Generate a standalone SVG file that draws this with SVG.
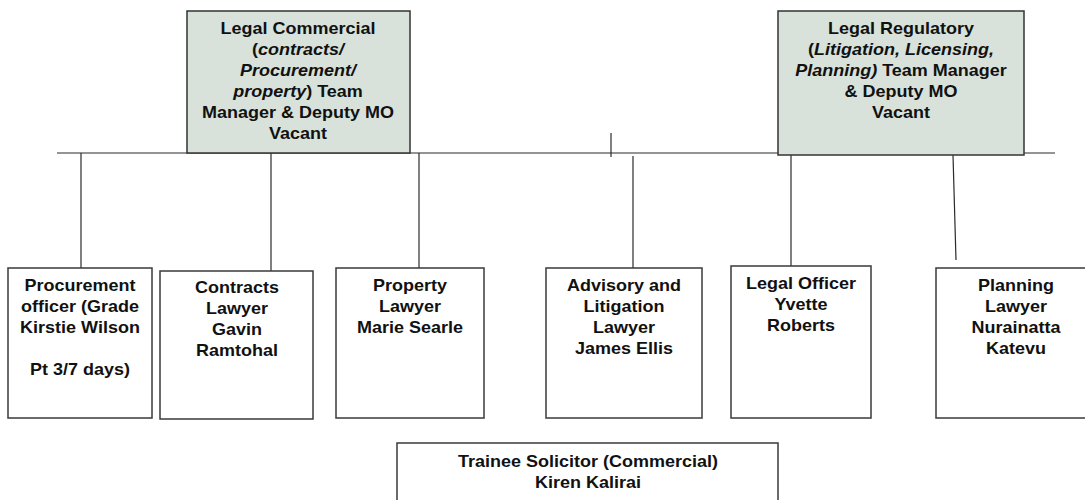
<svg xmlns="http://www.w3.org/2000/svg" width="1085" height="500" viewBox="0 0 1085 500">
<style>
.box{fill:#ffffff;stroke:#3a3a3a;stroke-width:1.5}
.mgr{fill:#d8e2da;stroke:#333333;stroke-width:1.5}
.ln{stroke:#2a2a2a;stroke-width:1.2;fill:none}
text{font-family:"Liberation Sans",Arial,sans-serif;font-weight:bold;font-size:16px;fill:#111111;text-anchor:middle}
.it{font-style:italic}
</style>
<rect width="1085" height="500" fill="#ffffff"/>
<g id="connectors">
<line class="ln" x1="57" y1="153" x2="1055" y2="153"/>
<line class="ln" x1="611" y1="133" x2="611" y2="157"/>
<line class="ln" x1="81" y1="153" x2="81" y2="268"/>
<line class="ln" x1="271" y1="153" x2="271" y2="271"/>
<line class="ln" x1="419" y1="153" x2="419" y2="268"/>
<line class="ln" x1="633" y1="156" x2="633" y2="268"/>
<line class="ln" x1="791" y1="155" x2="791" y2="266"/>
<line class="ln" x1="953" y1="155" x2="956" y2="260"/>
</g>
<g id="mgr-commercial">
<rect class="mgr" x="187" y="11" width="223" height="142"/>
<g transform="translate(298,0) scale(1.125,1)">
<text x="0" y="34">Legal Commercial</text>
<text x="0" y="55">(<tspan class="it">contracts/</tspan></text>
<text x="0" y="76" class="it">Procurement/</text>
<text x="0" y="97"><tspan class="it">property</tspan>) Team</text>
<text x="0" y="118">Manager &amp; Deputy MO</text>
<text x="0" y="139">Vacant</text>
</g>
</g>
<g id="mgr-regulatory">
<rect class="mgr" x="778" y="11" width="246" height="144"/>
<g transform="translate(901,0) scale(1.125,1)">
<text x="0" y="34">Legal Regulatory</text>
<text x="0" y="55">(<tspan class="it">Litigation, Licensing,</tspan></text>
<text x="0" y="76"><tspan class="it">Planning)</tspan> Team Manager</text>
<text x="0" y="97">&amp; Deputy MO</text>
<text x="0" y="118">Vacant</text>
</g>
</g>
<g id="procurement">
<rect class="box" x="8" y="268" width="144" height="150"/>
<g transform="translate(80,0) scale(1.125,1)">
<text x="0" y="291">Procurement</text>
<text x="0" y="312">officer (Grade</text>
<text x="0" y="333">Kirstie Wilson</text>
<text x="0" y="375">Pt 3/7 days)</text>
</g>
</g>
<g id="contracts">
<rect class="box" x="160" y="271" width="153" height="148"/>
<g transform="translate(237,0) scale(1.125,1)">
<text x="0" y="293">Contracts</text>
<text x="0" y="314">Lawyer</text>
<text x="0" y="335">Gavin</text>
<text x="0" y="356">Ramtohal</text>
</g>
</g>
<g id="property">
<rect class="box" x="336" y="268" width="148" height="150"/>
<g transform="translate(410,0) scale(1.125,1)">
<text x="0" y="291">Property</text>
<text x="0" y="312">Lawyer</text>
<text x="0" y="333">Marie Searle</text>
</g>
</g>
<g id="advisory">
<rect class="box" x="546" y="268" width="156" height="150"/>
<g transform="translate(624,0) scale(1.125,1)">
<text x="0" y="291">Advisory and</text>
<text x="0" y="312">Litigation</text>
<text x="0" y="333">Lawyer</text>
<text x="0" y="354">James Ellis</text>
</g>
</g>
<g id="legal-officer">
<rect class="box" x="731" y="266" width="140" height="152"/>
<g transform="translate(801,0) scale(1.125,1)">
<text x="0" y="289">Legal Officer</text>
<text x="0" y="310">Yvette</text>
<text x="0" y="331">Roberts</text>
</g>
</g>
<g id="planning">
<rect class="box" x="936" y="268" width="152" height="150"/>
<g transform="translate(1016,0) scale(1.125,1)">
<text x="0" y="291">Planning</text>
<text x="0" y="312">Lawyer</text>
<text x="0" y="333">Nurainatta</text>
<text x="0" y="354">Katevu</text>
</g>
</g>
<g id="trainee">
<rect class="box" x="397" y="443" width="381" height="70"/>
<g transform="translate(588,0) scale(1.125,1)">
<text x="0" y="467">Trainee Solicitor (Commercial)</text>
<text x="0" y="488">Kiren Kalirai</text>
</g>
</g>
</svg>
